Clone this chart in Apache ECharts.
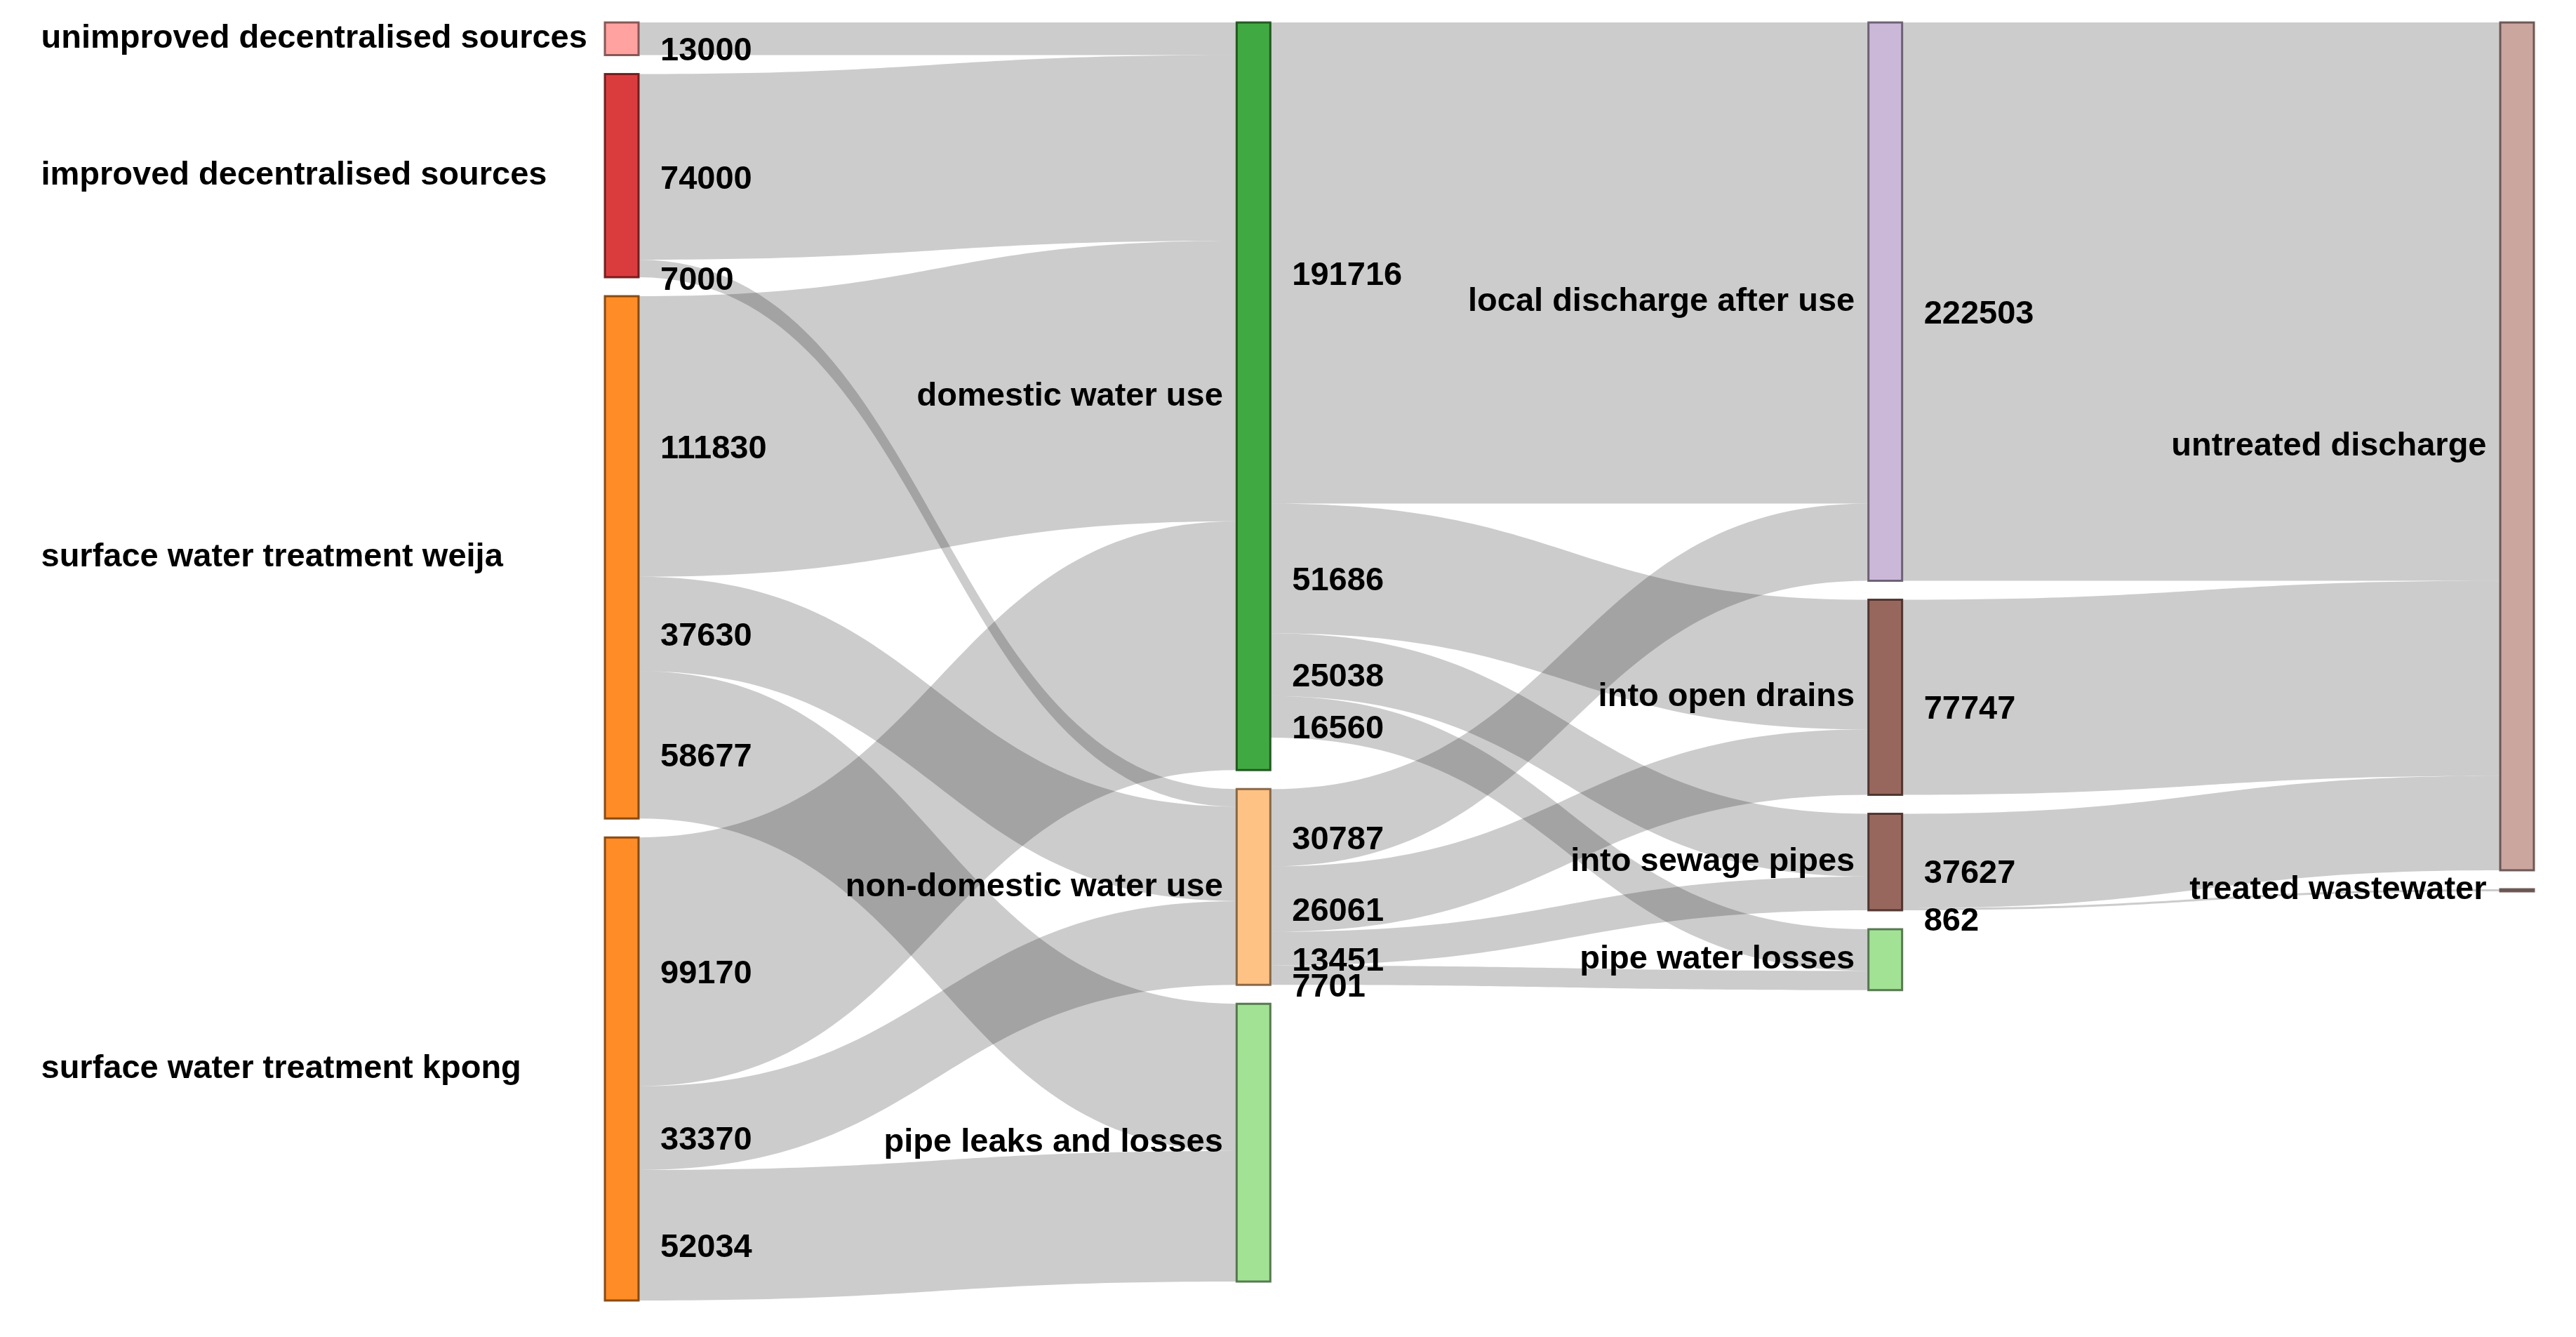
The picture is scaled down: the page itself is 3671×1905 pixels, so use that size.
<!DOCTYPE html>
<html><head><meta charset="utf-8">
<script src="https://cdn.jsdelivr.net/npm/echarts@6/dist/echarts.min.js"></script>
<style>html,body{margin:0;padding:0;background:#fff}#c{width:3671px;height:1905px}</style>
</head><body><div id="c"></div>
<script>
// ---- data ----
const nodeNames = [
  'unimproved decentralised sources',
  'improved decentralised sources',
  'surface water treatment weija',
  'surface water treatment kpong',
  'domestic water use',
  'non-domestic water use',
  'pipe leaks and losses',
  'local discharge after use',
  'into open drains',
  'into sewage pipes',
  'pipe water losses',
  'untreated discharge',
  'treated wastewater'
];
const linkSources = [
  'unimproved decentralised sources',
  'improved decentralised sources',
  'improved decentralised sources',
  'surface water treatment weija',
  'surface water treatment weija',
  'surface water treatment weija',
  'surface water treatment kpong',
  'surface water treatment kpong',
  'surface water treatment kpong',
  'domestic water use',
  'domestic water use',
  'domestic water use',
  'domestic water use',
  'non-domestic water use',
  'non-domestic water use',
  'non-domestic water use',
  'non-domestic water use',
  'local discharge after use',
  'into open drains',
  'into sewage pipes',
  'into sewage pipes'
];
const linkTargets = [
  'domestic water use',
  'domestic water use',
  'non-domestic water use',
  'domestic water use',
  'non-domestic water use',
  'pipe leaks and losses',
  'domestic water use',
  'non-domestic water use',
  'pipe leaks and losses',
  'local discharge after use',
  'into open drains',
  'into sewage pipes',
  'pipe water losses',
  'local discharge after use',
  'into open drains',
  'into sewage pipes',
  'pipe water losses',
  'untreated discharge',
  'untreated discharge',
  'untreated discharge',
  'treated wastewater'
];
const linkValues = [13000, 74000, 7000, 111830, 37630, 58677, 99170, 33370, 52034,
  191716, 51686, 25038, 16560, 30787, 26061, 13451, 7701, 222503, 77747, 37627, 862];

// ---- styles ----
const nodeColors = ['#ff9896','#d62728','#ff7f0e','#ff7f0e','#2ca02c','#ffbb78','#98df8a',
  '#c5b0d5','#8c564b','#8c564b','#98df8a','#c49c94','#c49c94'];
const FONT = 'Liberation Sans, Arial, sans-serif';
const FS = 47;
const L = 862, T = 32, R = 60, B = 52;
const FIRST_COL_TEXT_X = 60;

function darker(hex) {
  const n = parseInt(hex.slice(1), 16);
  const f = 0.49;
  const r = Math.round(((n >> 16) & 255) * f), g = Math.round(((n >> 8) & 255) * f), b = Math.round((n & 255) * f);
  return 'rgb(' + r + ',' + g + ',' + b + ')';
}

const sourceOnly = nodeNames.filter(n => linkTargets.indexOf(n) < 0);
const nodes = nodeNames.map((name, i) => {
  const item = {
    name: name,
    itemStyle: { color: nodeColors[i], borderColor: darker(nodeColors[i]), borderWidth: 3, opacity: 0.9 }
  };
  if (sourceOnly.indexOf(name) >= 0) {
    item.label = { position: [-(L - FIRST_COL_TEXT_X), '50%'], align: 'left', verticalAlign: 'middle' };
  }
  return item;
});
const links = linkValues.map((v, i) => ({ source: linkSources[i], target: linkTargets[i], value: v }));

const chart = echarts.init(document.getElementById('c'), null, { renderer: 'canvas' });
chart.setOption({
  animation: false,
  backgroundColor: '#ffffff',
  series: [{
    type: 'sankey',
    left: L, top: T, right: R, bottom: B,
    nodeWidth: 48,
    nodeGap: 27,
    nodeAlign: 'left',
    layoutIterations: 0,
    draggable: false,
    emphasis: { disabled: true },
    data: nodes,
    links: links,
    lineStyle: { color: '#000', opacity: 0.2, curveness: 0.5 },
    label: {
      position: 'left', distance: 18,
      fontSize: FS, fontWeight: 'bold', fontFamily: FONT, color: '#000'
    }
  }]
});

// value labels placed at the source end of each link, from the library's own layout
try {
  const seriesModel = chart.getModel().getSeriesByIndex(0);
  const graph = seriesModel.getGraph();
  const li = seriesModel.layoutInfo || { x: L, y: T };
  const texts = [];
  graph.edges.forEach(function (e) {
    const n1 = e.node1.getLayout();
    const el = e.getLayout();
    texts.push({
      type: 'text',
      x: li.x + n1.x + n1.dx + 31,
      y: li.y + n1.y + el.sy + el.dy / 2 + 18,
      silent: true,
      style: {
        text: String(linkValues[e.dataIndex]),
        fill: '#000', fontSize: FS, fontWeight: 'bold', fontFamily: FONT,
        align: 'left', verticalAlign: 'middle'
      }
    });
  });
  chart.setOption({ graphic: texts });
} catch (err) {
  console.error(err);
}
</script>
</body></html>
